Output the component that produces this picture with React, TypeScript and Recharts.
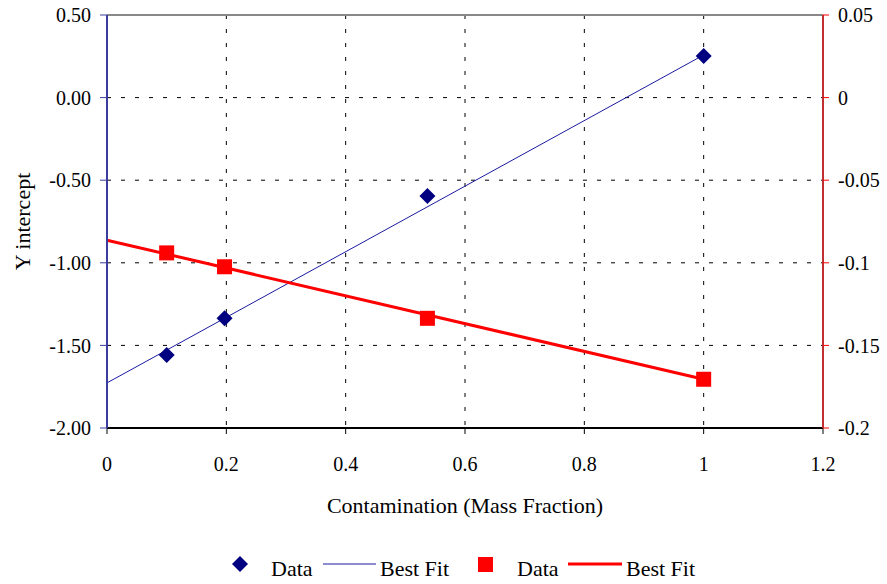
import React from "react";
import {
  CartesianGrid,
  ComposedChart,
  Line,
  ReferenceLine,
  Scatter,
  XAxis,
  YAxis,
} from "recharts";

// measured points
const blueData = [
  { x: 0.1, y: -1.558 },
  { x: 0.197, y: -1.336 },
  { x: 0.537, y: -0.596 },
  { x: 1.0, y: 0.252 },
];
const blueFit = [
  { x: 0, y: -1.727 },
  { x: 1.0, y: 0.258 },
];
const redData = [
  { x: 0.1, y: -0.094 },
  { x: 0.197, y: -0.1024 },
  { x: 0.537, y: -0.1336 },
  { x: 1.0, y: -0.1705 },
];
const redFit = [
  { x: 0, y: -0.0863 },
  { x: 1.0, y: -0.1705 },
];

const xTicks = [0, 0.2, 0.4, 0.6, 0.8, 1, 1.2];
const leftTicks = [-2, -1.5, -1, -0.5, 0, 0.5];
const rightTicks = [-0.2, -0.15, -0.1, -0.05, 0, 0.05];

const FONT = "Liberation Serif";
const tickStyle = { fontFamily: FONT, fontSize: 20, fill: "#000" };

const Diamond = (props: any) => {
  const { cx, cy } = props;
  const r = 8;
  return (
    <path
      d={`M${cx},${cy - r}L${cx + r},${cy}L${cx},${cy + r}L${cx - r},${cy}Z`}
      fill="#000080"
    />
  );
};

const Square = (props: any) => {
  const { cx, cy } = props;
  const h = 7.5;
  return <rect x={cx - h} y={cy - h} width={h * 2} height={h * 2} fill="#ff0000" />;
};

const YLabel = (props: any) => {
  const vb = props.viewBox || {};
  const cy = vb.y + vb.height / 2;
  return (
    <text
      x={22}
      y={cy}
      transform={`rotate(-90, 22, ${cy})`}
      textAnchor="middle"
      dominantBaseline="central"
      fontFamily={FONT}
      fontSize={22}
      fill="#000"
    >
      Y intercept
    </text>
  );
};

const LegendRow = () => (
  <svg
    width={887}
    height={40}
    style={{ position: "absolute", left: 0, top: 544 }}
  >
    <g fontFamily={FONT} fontSize={22} fill="#000">
      <path d="M240,12L248,20L240,28L232,20Z" fill="#000080" />
      <text x={271} y={32}>Data</text>
      <line x1={323} y1={20} x2={376} y2={20} stroke="#1a1aa0" strokeWidth={1} />
      <text x={380} y={32}>Best Fit</text>
      <rect x={478} y={13} width={15} height={15} fill="#ff0000" />
      <text x={517} y={32}>Data</text>
      <line x1={568} y1={20} x2={622} y2={20} stroke="#ff0000" strokeWidth={3} />
      <text x={626} y={32}>Best Fit</text>
    </g>
  </svg>
);

export default function App() {
  return (
    <div
      style={{
        position: "absolute",
        left: 0,
        top: 0,
        width: 887,
        height: 584,
        background: "#fff",
        fontFamily: FONT,
      }}
    >
      <ComposedChart
        width={887}
        height={584}
        margin={{ top: 15, right: 0, left: 0, bottom: 66 }}
        style={{ fontFamily: FONT }}
      >
        <CartesianGrid
          yAxisId="left"
          stroke="#000"
          strokeDasharray="4 10"
          strokeWidth={1}
        />
        <XAxis
          dataKey="x"
          type="number"
          domain={[0, 1.2]}
          ticks={xTicks}
          height={90}
          tick={tickStyle}
          tickSize={6}
          tickMargin={23}
          stroke="#000"
          axisLine={{ stroke: "#000", strokeWidth: 2 }}
          tickLine={{ stroke: "#000" }}
          label={{
            value: "Contamination (Mass Fraction)",
            position: "insideTop",
            offset: 69,
            fontFamily: FONT,
            fontSize: 22,
            fill: "#000",
          }}
        />
        <YAxis
          yAxisId="left"
          type="number"
          domain={[-2, 0.5]}
          ticks={leftTicks}
          width={107}
          tick={tickStyle}
          tickSize={7}
          tickMargin={9}
          tickFormatter={(v: number) => v.toFixed(2)}
          axisLine={{ stroke: "#3c3ca0", strokeWidth: 2 }}
          tickLine={{ stroke: "#3c3ca0" }}
          label={<YLabel />}
        />
        <YAxis
          yAxisId="right"
          orientation="right"
          type="number"
          domain={[-0.2, 0.05]}
          ticks={rightTicks}
          width={64}
          tick={tickStyle}
          tickSize={6}
          tickMargin={9}
          axisLine={{ stroke: "#c03030", strokeWidth: 2 }}
          tickLine={{ stroke: "#ff0000" }}
        />
        <ReferenceLine
          yAxisId="left"
          y={0.5}
          stroke="#888"
          strokeWidth={2}
        />
        <Line
          yAxisId="left"
          data={blueFit}
          dataKey="y"
          type="linear"
          stroke="#1a1aa0"
          strokeWidth={1}
          dot={false}
          activeDot={false}
          isAnimationActive={false}
        />
        <Line
          yAxisId="right"
          data={redFit}
          dataKey="y"
          type="linear"
          stroke="#ff0000"
          strokeWidth={3}
          dot={false}
          activeDot={false}
          isAnimationActive={false}
        />
        <Scatter
          yAxisId="left"
          data={blueData}
          dataKey="y"
          shape={Diamond}
          isAnimationActive={false}
        />
        <Scatter
          yAxisId="right"
          data={redData}
          dataKey="y"
          shape={Square}
          isAnimationActive={false}
        />
      </ComposedChart>
      <LegendRow />
    </div>
  );
}
